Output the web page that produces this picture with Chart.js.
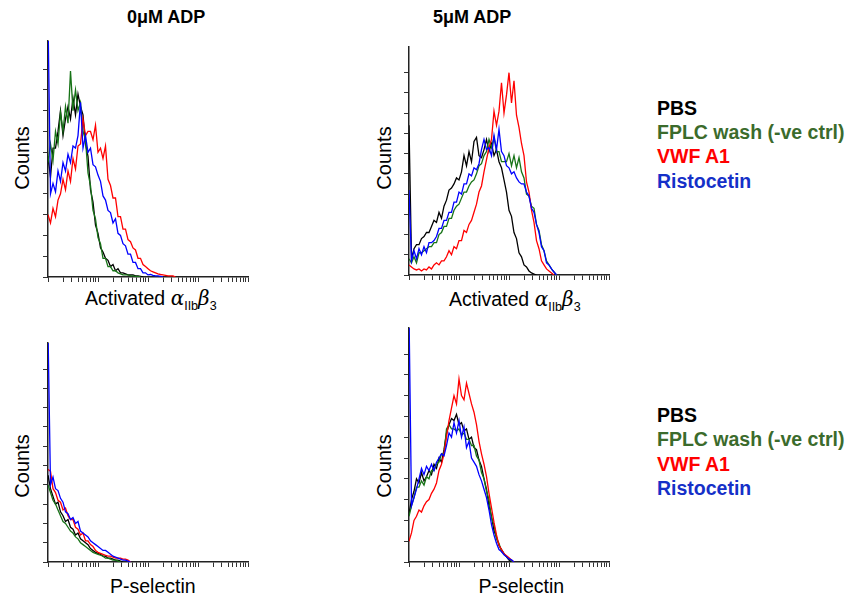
<!DOCTYPE html>
<html><head><meta charset="utf-8">
<script src="https://cdn.jsdelivr.net/npm/chart.js@4.4.1/dist/chart.umd.min.js"></script>
<style>
html,body{margin:0;padding:0;background:#fff;}
#root{position:relative;width:852px;height:598px;overflow:hidden;background:#fff;font-family:"Liberation Sans",Arial,Helvetica,sans-serif;}
canvas{position:absolute;}
.t{position:absolute;white-space:nowrap;line-height:1;color:#000;}
.title{font-size:18px;font-weight:bold;}
.leg{font-size:19.5px;font-weight:bold;}
.ax{font-size:19.5px;}
.counts{font-size:20px;transform:translate(-50%,-50%) rotate(-90deg);}
.gk{font-family:"DejaVu Serif","Liberation Serif",serif;font-style:italic;font-size:20px;}
.sb{font-size:12.5px;position:relative;top:5px;}
</style></head>
<body><div id="root">
<div class="t title" style="left:127px;top:8px">0μM ADP</div>
<div class="t title" style="left:433px;top:8px">5μM ADP</div>

<div class="t counts" style="left:21.7px;top:158px">Counts</div>
<div class="t counts" style="left:384.2px;top:158px">Counts</div>
<div class="t counts" style="left:21.7px;top:465.5px">Counts</div>
<div class="t counts" style="left:384.2px;top:465.5px">Counts</div>

<div class="t ax" style="left:85px;top:288px">Activated <span class="gk">α</span><span class="sb">IIb</span><span class="gk">β</span><span class="sb">3</span></div>
<div class="t ax" style="left:449px;top:288.5px">Activated <span class="gk">α</span><span class="sb">IIb</span><span class="gk">β</span><span class="sb">3</span></div>
<div class="t ax" style="left:110px;top:576.5px">P-selectin</div>
<div class="t ax" style="left:478.5px;top:576.5px">P-selectin</div>

<div id="leg1"></div>
<div id="leg2"></div>

<canvas id="cTL"></canvas>
<canvas id="cTR"></canvas>
<canvas id="cBL"></canvas>
<canvas id="cBR"></canvas>
</div>
<script>
// ---------- data (histogram counts per channel; channel width = BIN decades) ----------
const BIN = 0.05;
const seriesLabels = ['PBS', 'FPLC wash (-ve ctrl)', 'VWF A1', 'Ristocetin'];
const lineColors = ['#000000', '#177317', '#ff0000', '#0000ff'];
const legendColors = ['#000000', '#3b6b2c', '#ff0000', '#1530c8'];
const yTickValues = [0, 10, 20, 30, 40, 50, 60, 70, 80, 90, 100];

// 0 µM ADP — activated αIIbβ3
const adp0Integrin_PBS  = [58,48,62,62,70,80,68,76,82,76,86,78,88,82,78,64,58,42,36,25,21,14,12,9,8,5,6,3,4,2,2,1.5,1,1,1,0.5,0.5,0.3,0];
const adp0Integrin_FPLC = [55,64,56,70,64,79,70,82,74,99,80,90,80,84,70,66,50,44,32,28,19,16,9,9,5,5,3,3,2,1.5,1,1,1,0.5,0.5,0.3,0.3,0];
const adp0Integrin_VWF  = [30,26,33,29,37,40,47,42,51,46,57,52,63,64,76,68,70,70,66,73,60,62,57,63,47,44,38,38,29,29,23,23,18,17,14,13,9,9,6,5,4,3,2.5,2,1.5,1.2,1,0.8,0.5,0.5,0.5,0];
const adp0Integrin_Rist = [125,40,45,41,51,46,55,51,59,55,63,62,68,84,62,68,60,62,54,53,49,46,39,37,32,31,26,28,21,20,16,15,11,11,7,7,4,4,2,2,1,1.2,0.8,0.5,0.5,0.3,0];

// 5 µM ADP — activated αIIbβ3
const adp5Integrin_PBS  = [74,8,13,15,15,18,19,21,21,24,27,26,31,28,34,37,42,43,45,48,47,51,59,54,61,56,66,68,59,58,62,67,61,65,59,62,56,53,47,41,32,29,21,18,11,9,5,4,2,1,0.5,0];
const adp5Integrin_FPLC = [8,6,9,6,11,11,12,13,14,14,16,16,20,21,24,24,28,28,32,34,35,38,41,41,44,46,47,50,54,55,59,61,67,63,68,61,61,56,56,56,60,54,59,53,58,51,48,40,39,34,33,25,22,15,12,7,5,3,1.5,0];
const adp5Integrin_VWF  = [5,4,3,2.5,3,2,3,2.5,4,3,5,6,5,7,7,9,12,10,14,13,17,17,22,21,25,27,31,35,41,44,51,57,63,67,81,74,81,95,80,89,100,85,96,79,73,65,59,46,41,32,26,17,13,7,5,3,2,1,0];
const adp5Integrin_Rist = [42,7,12,8,13,10,14,11,16,16,17,19,23,23,27,27,31,31,36,36,41,40,45,45,50,49,53,52,55,62,67,62,63,59,69,62,72,61,59,54,53,50,51,48,46,45,45,41,39,33,31,25,21,14,12,6,5,3,1.5,0];

// 0 µM ADP — P-selectin
const adp0Psel_PBS  = [45,38,34,30,31,26,24,21,22,18,17,14,15,12,11,10,9,7,6,5,4.5,4,3,3,2,2,1.5,1,1,0.5,0];
const adp0Psel_FPLC = [40,36,32,30,27,24,21,20,18,16,15,13,12,10,9,8,7,6,5,4.5,4,3.5,3,2,2,1.5,1,1,0.5,0];
const adp0Psel_VWF  = [48,47,38,36,32,31,27,28,24,22,22,18,17,14,15,11,11,9,8,6,5,4.5,4,3.5,3,3,2.5,2,2,2,1.5,1.5,1,0];
const adp0Psel_Rist = [120,40,44,38,37,33,31,26,25,22,23,20,21,16,15,14,13,11,10,9,8,7,6,6,5,4,3,2.5,2,1.5,1,1,0.5,0];

// 5 µM ADP — P-selectin
const adp5Psel_PBS  = [23,30,34,40,38,43,39,41,44,42,47,45,50,48,54,62,66,69,68,71,66,67,63,64,59,60,55,54,49,46,40,35,27,22,15,12,8,6,4,2.5,1,0];
const adp5Psel_FPLC = [22,27,31,36,36,39,37,41,40,44,44,47,48,52,52,64,66,64,64,63,64,61,62,59,59,56,56,51,49,43,40,34,30,21,18,11,9,5,4,2.5,1.5,0.5,0];
const adp5Psel_VWF  = [10,14,20,22,25,24,27,29,30,33,35,38,44,47,52,60,68,74,80,76,88,80,78,86,81,76,72,66,58,52,47,41,33,26,19,13,8,6,4,3,2,1,0];
const adp5Psel_Rist = [120,27,31,35,40,45,42,46,44,47,44,48,50,52,51,56,62,60,67,62,68,60,65,55,58,50,48,46,42,39,35,31,25,18,13,9,6,5,3.5,2.5,1.5,1,0];

// ---------- layout (plot areas in page pixels) ----------
const LAYOUT = {
  cTL: {left: 48,  top: 41,  width: 200, height: 236, yMax: 113.5},
  cTR: {left: 409, top: 47,  width: 200, height: 228, yMax: 112.7},
  cBL: {left: 48,  top: 343, width: 200, height: 219, yMax: 113.5},
  cBR: {left: 409, top: 328, width: 200, height: 234, yMax: 112.5}
};
const X_DECADES = 4;

const xTickValues = [];
for (let d = 0; d < X_DECADES; d++) for (let k = 1; k < 10; k++) xTickValues.push(d + Math.log10(k));
xTickValues.push(X_DECADES);

function toPoints(vals) { return vals.map((v, i) => ({x: +(i * BIN).toFixed(3), y: v})); }

function buildLegend(id, baseTop) {
  const el = document.getElementById(id);
  seriesLabels.forEach((s, i) => {
    const d = document.createElement('div');
    d.className = 't leg';
    d.style.left = '657px';
    d.style.top = (baseTop + i * 24.4) + 'px';
    d.style.color = legendColors[i];
    d.textContent = s;
    el.appendChild(d);
  });
}
buildLegend('leg1', 98.5);
buildLegend('leg2', 406);

function makePanel(id, seriesArrays) {
  const L = LAYOUT[id];
  const pad = {left: 5, top: 5, right: 15, bottom: 5};
  const tick = 5;
  const cv = document.getElementById(id);
  const W = L.width + pad.left + tick + pad.right;
  const H = L.height + pad.top + tick + pad.bottom;
  cv.width = W; cv.height = H;
  cv.style.width = W + 'px'; cv.style.height = H + 'px';
  cv.style.left = (L.left - pad.left - tick) + 'px';
  cv.style.top = (L.top - pad.top) + 'px';
  const order = [3, 2, 1, 0];
  new Chart(cv, {
    type: 'line',
    data: {
      datasets: seriesArrays.map((arr, i) => ({
        label: seriesLabels[i],
        data: toPoints(arr),
        borderColor: lineColors[i],
        backgroundColor: lineColors[i],
        borderWidth: 1.3,
        pointRadius: 0,
        tension: 0,
        fill: false,
        order: order[i]
      }))
    },
    options: {
      responsive: false,
      animation: false,
      devicePixelRatio: 1,
      events: [],
      layout: {padding: pad},
      plugins: {legend: {display: false}, tooltip: {enabled: false}, title: {display: false}},
      scales: {
        x: {
          type: 'linear', min: 0, max: X_DECADES,
          afterBuildTicks: s => { s.ticks = xTickValues.map(v => ({value: v})); },
          ticks: {display: false},
          grid: {display: true, drawOnChartArea: false, drawTicks: true, tickLength: tick, color: '#333', lineWidth: 1},
          border: {display: true, color: '#222', width: 1.5}
        },
        y: {
          type: 'linear', min: 0, max: L.yMax,
          afterBuildTicks: s => { s.ticks = yTickValues.map(v => ({value: v})); },
          ticks: {display: false},
          grid: {display: true, drawOnChartArea: false, drawTicks: true, tickLength: tick, color: '#333', lineWidth: 1},
          border: {display: true, color: '#222', width: 1.5}
        }
      }
    }
  });
}

makePanel('cTL', [adp0Integrin_PBS, adp0Integrin_FPLC, adp0Integrin_VWF, adp0Integrin_Rist]);
makePanel('cTR', [adp5Integrin_PBS, adp5Integrin_FPLC, adp5Integrin_VWF, adp5Integrin_Rist]);
makePanel('cBL', [adp0Psel_PBS, adp0Psel_FPLC, adp0Psel_VWF, adp0Psel_Rist]);
makePanel('cBR', [adp5Psel_PBS, adp5Psel_FPLC, adp5Psel_VWF, adp5Psel_Rist]);
</script>
</body></html>
